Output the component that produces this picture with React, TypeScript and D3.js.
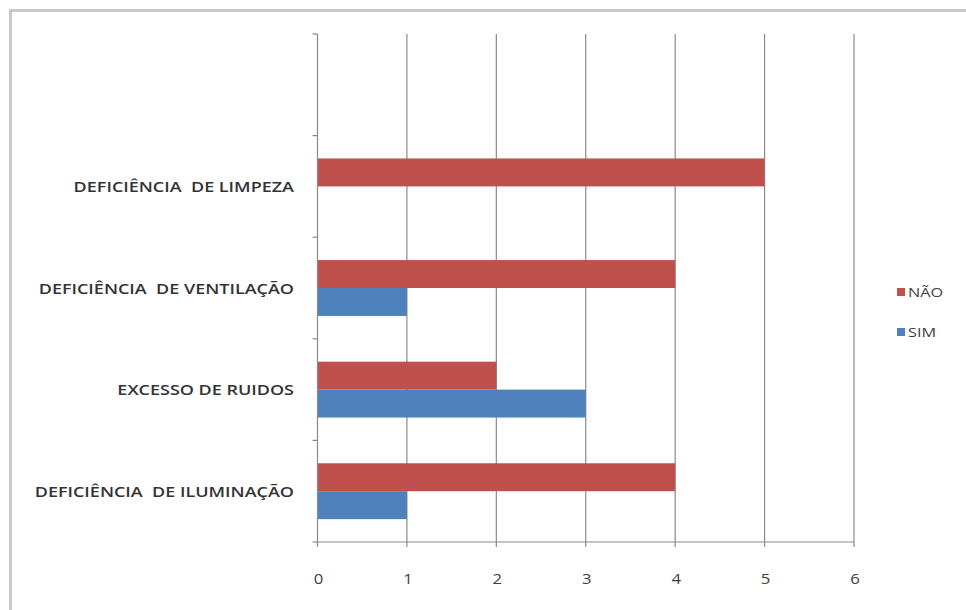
import React from "react";
import * as d3 from "d3";

// Categories listed bottom to top; the top slot is an empty category.
const categories = [
  "DEFICIÊNCIA  DE ILUMINAÇÃO",
  "EXCESSO DE RUIDOS",
  "DEFICIÊNCIA  DE VENTILAÇÃO",
  "DEFICIÊNCIA  DE LIMPEZA",
  "",
];
const naoValues: (number | null)[] = [4, 2, 4, 5, null];
const simValues: (number | null)[] = [1, 3, 1, 0, null];
const xTicks = [0, 1, 2, 3, 4, 5, 6];
const seriesNames = ["NÃO", "SIM"];

const RED = "#C0504D";
const BLUE = "#4F81BD";
const GRID = "#8a8a8a";
const TEXT = "#404040";
const FONT = "'Open Sans', 'DejaVu Sans', sans-serif";

// Wide text: glyphs are stretched horizontally around their anchor point.
function WideText(props: {
  x: number;
  y: number;
  sx: number;
  anchor: "start" | "middle" | "end";
  size: number;
  weight?: number;
  fill: string;
  children: React.ReactNode;
}) {
  const { x, y, sx, anchor, size, weight, fill, children } = props;
  return (
    <g transform={`translate(${x},${y}) scale(${sx},1)`}>
      <text
        x={0}
        y={0}
        textAnchor={anchor}
        fontFamily={FONT}
        fontSize={size}
        fontWeight={weight ?? 400}
        fill={fill}
        style={{ whiteSpace: "pre" }}
      >
        {children}
      </text>
    </g>
  );
}

export default function App() {
  const width = 966;
  const height = 610;
  const plot = { left: 317.5, right: 854, top: 34, bottom: 542 };

  const x = d3.scaleLinear().domain([0, 6]).range([plot.left, plot.right]);
  const y = d3
    .scaleBand<string>()
    .domain(categories.map((c, i) => String(i)))
    .range([plot.bottom, plot.top])
    .paddingInner(0)
    .paddingOuter(0);

  const step = y.step();
  const groupFrac = 0.55;
  const barH = (step * groupFrac) / 2;

  const boundaries = d3.range(categories.length + 1).map(
    (i) => plot.bottom - i * step
  );

  return (
    <svg
      width={width}
      height={height}
      style={{ position: "absolute", left: 0, top: 0, background: "#fff" }}
    >
      {/* outer frame */}
      <rect
        x={10.5}
        y={10.5}
        width={width + 20}
        height={height + 20}
        fill="#fff"
        stroke="#c9c9c9"
        strokeWidth={3}
      />

      {/* vertical gridlines */}
      {xTicks.slice(1).map((t) => (
        <line
          key={"g" + t}
          x1={x(t)}
          x2={x(t)}
          y1={plot.top}
          y2={plot.bottom}
          stroke={GRID}
          strokeWidth={1.2}
        />
      ))}

      {/* bars */}
      {categories.map((c, i) => {
        const y0 = (y(String(i)) as number) + step / 2;
        const n = naoValues[i];
        const s = simValues[i];
        return (
          <g key={"b" + i}>
            {n != null && n > 0 && (
              <rect
                x={x(0)}
                y={y0 - barH}
                width={x(n) - x(0)}
                height={barH}
                fill={RED}
              />
            )}
            {s != null && s > 0 && (
              <rect
                x={x(0)}
                y={y0}
                width={x(s) - x(0)}
                height={barH}
                fill={BLUE}
              />
            )}
          </g>
        );
      })}

      {/* y axis */}
      <line
        x1={x(0)}
        x2={x(0)}
        y1={plot.top}
        y2={plot.bottom}
        stroke={GRID}
        strokeWidth={1.2}
      />
      {boundaries.map((b, i) => (
        <line
          key={"yt" + i}
          x1={x(0) - 5}
          x2={x(0)}
          y1={b}
          y2={b}
          stroke={GRID}
          strokeWidth={1.2}
        />
      ))}

      {/* x axis */}
      <line
        x1={plot.left}
        x2={plot.right}
        y1={plot.bottom}
        y2={plot.bottom}
        stroke={GRID}
        strokeWidth={1.2}
      />
      {xTicks.map((t) => (
        <g key={"xt" + t}>
          <line
            x1={x(t)}
            x2={x(t)}
            y1={plot.bottom}
            y2={plot.bottom + 5}
            stroke={GRID}
            strokeWidth={1.2}
          />
          <WideText
            x={x(t) + 1}
            y={plot.bottom + 42}
            sx={1.15}
            anchor="middle"
            size={14.5}
            fill={TEXT}
          >
            {t}
          </WideText>
        </g>
      ))}

      {/* category labels */}
      {categories.map((c, i) => (
        <WideText
          key={"c" + i}
          x={294}
          y={(y(String(i)) as number) + step / 2 + 5.5}
          sx={1.2}
          anchor="end"
          size={15}
          weight={600}
          fill="#333"
        >
          {c}
        </WideText>
      ))}

      {/* legend */}
      {seriesNames.map((name, i) => (
        <g key={"l" + i} transform={`translate(897, ${288 + i * 40})`}>
          <rect x={0} y={0} width={8} height={8} fill={i === 0 ? RED : BLUE} />
          <WideText
            x={11}
            y={9}
            sx={1.25}
            anchor="start"
            size={13}
            fill={TEXT}
          >
            {name}
          </WideText>
        </g>
      ))}
    </svg>
  );
}
